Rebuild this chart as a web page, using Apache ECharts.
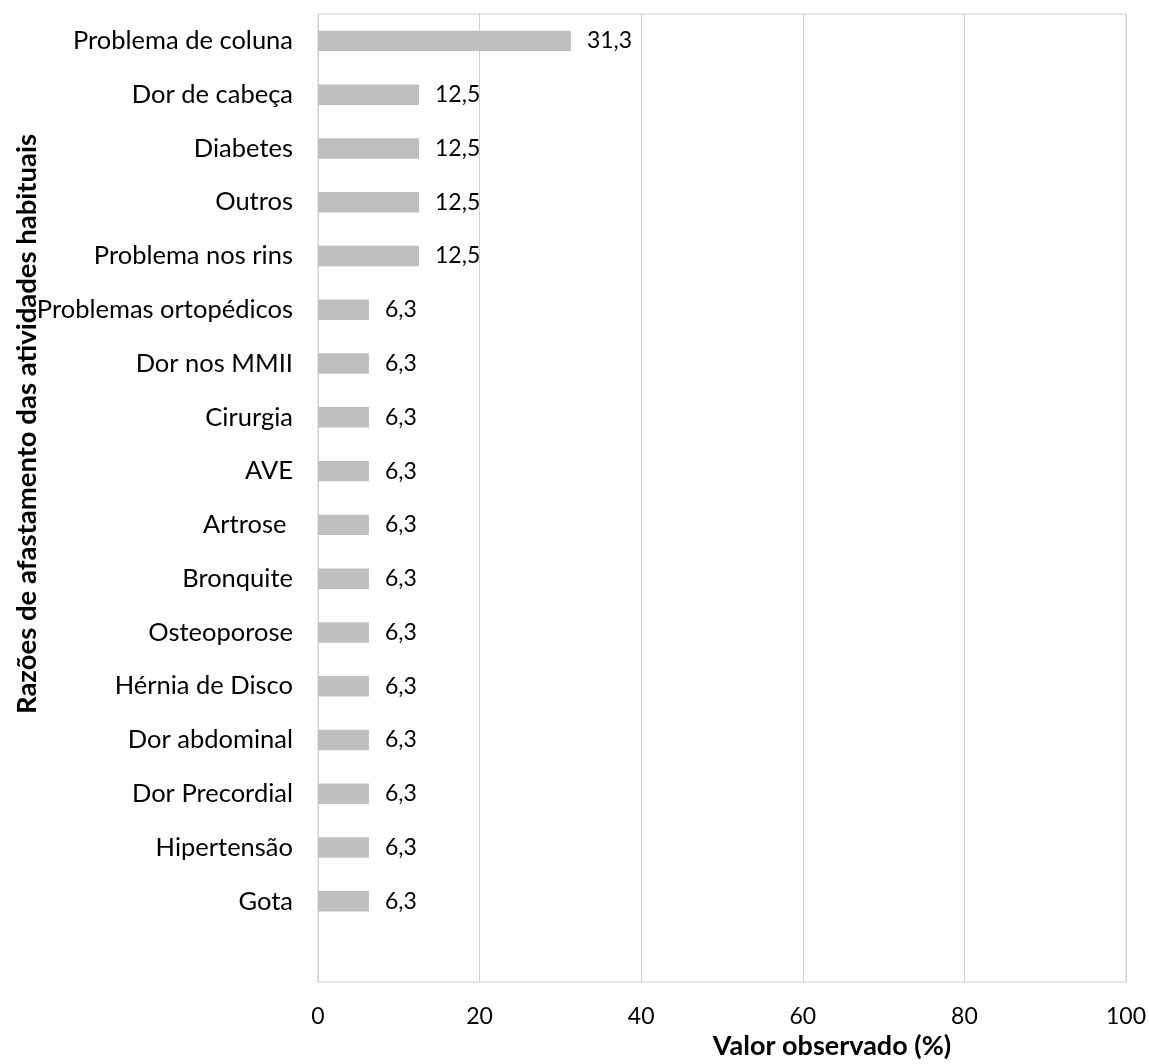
<!DOCTYPE html>
<html>
<head>
<meta charset="utf-8">
<script src="https://cdn.jsdelivr.net/npm/echarts@6/dist/echarts.min.js"></script>
<style>
html,body{margin:0;padding:0;background:#fff;}
#chart{width:1149px;height:1064px;}
</style>
</head>
<body>
<div id="chart"></div>
<script>
var categories = ["Problema de coluna","Dor de cabeça","Diabetes","Outros","Problema nos rins","Problemas ortopédicos","Dor nos MMII","Cirurgia","AVE","Artrose ","Bronquite","Osteoporose","Hérnia de Disco","Dor abdominal","Dor Precordial","Hipertensão","Gota",""];
var values = [31.3,12.5,12.5,12.5,12.5,6.3,6.3,6.3,6.3,6.3,6.3,6.3,6.3,6.3,6.3,6.3,6.3,null];
var xTicks = [0,20,40,60,80,100];
var xTitle = "Valor observado (%)";
var yTitle = "Razões de afastamento das atividades habituais";

var FONT = "Lato";
var chart = echarts.init(document.getElementById('chart'));
chart.setOption({
  animation:false,
  backgroundColor:'#fff',
  grid:{left:318, top:14, width:808, height:968, containLabel:false, outerBoundsMode:'none',
        show:true, borderColor:'#d0d0d0', borderWidth:1},
  xAxis:{
    type:'value', min:xTicks[0], max:xTicks[xTicks.length-1], interval:20,
    axisLine:{show:false}, axisTick:{show:false},
    splitLine:{show:true, lineStyle:{color:'#d0d0d0', width:1}},
    axisLabel:{color:'#000', fontFamily:FONT, fontSize:23, margin:23},
    name:xTitle, nameLocation:'middle', nameGap:51,
    nameTextStyle:{color:'#000', fontFamily:FONT, fontSize:27, fontWeight:'bold', padding:[0,0,0,220]}
  },
  yAxis:{
    type:'category', data:categories, inverse:true,
    axisLine:{show:true, lineStyle:{color:'#d0d0d0'}}, axisTick:{show:false},
    axisLabel:{color:'#000', fontFamily:FONT, fontSize:25.5, margin:25}
  },
  graphic:[{
    type:'text', x:27, y:424, rotation:Math.PI/2,
    style:{text:yTitle, fill:'#000', font:'bold 27.5px '+FONT, textAlign:'center', textVerticalAlign:'middle'}
  }],
  series:[{
    type:'bar', data:values, barWidth:'38%',
    itemStyle:{color:'#bfbfbf'},
    label:{show:true, position:'right', distance:16, color:'#000', fontFamily:FONT, fontSize:23,
      formatter:function(p){return p.value==null?'':p.value.toFixed(1).replace('.',',');}}
  }]
});
</script>
</body>
</html>
